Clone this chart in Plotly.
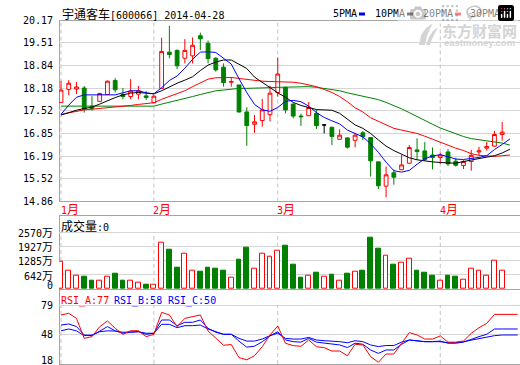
import plotly.graph_objects as go

W, H = 520, 365

# ---------------- data ----------------
title_text = '<span style="font-family:Noto Sans CJK SC;font-size:12px">宇通客车</span>[600066] 2014-04-28'
month_labels = ["1月", "2月", "3月", "4月"]
month_start = [1, 13, 29, 50]          # bar index where each month line is drawn

opens = [17.76, 18.14, 18.15, 18.18, 17.65, 17.79, 17.99, 18.40, 17.99, 17.93,
         18.00, 17.95, 17.75, 18.17, 19.23, 19.28, 19.05, 19.12, 19.71, 19.49,
         19.05, 18.79, 18.35, 18.27, 17.48, 17.12, 17.23, 17.40, 18.05, 18.20,
         17.71, 17.36, 17.37, 17.44, 17.10, 17.03, 16.68, 16.72, 16.65, 16.87,
         16.73, 16.02, 15.31, 15.70, 15.79, 15.98, 16.37, 16.34, 16.22, 16.15,
         16.31, 16.04, 15.91, 16.03, 16.31, 16.42, 16.48, 16.82]
highs = [18.39, 18.41, 18.36, 18.24, 17.94, 18.04, 18.40, 18.47, 18.18, 18.44,
         18.24, 18.09, 17.97, 19.65, 20.00, 19.31, 19.61, 19.66, 19.80, 19.57,
         19.08, 18.90, 18.49, 18.27, 17.62, 17.39, 17.86, 18.25, 19.07, 18.22,
         17.73, 17.43, 17.77, 17.54, 17.12, 17.05, 16.97, 16.74, 16.87, 16.92,
         16.73, 16.02, 15.88, 15.80, 16.22, 16.51, 16.71, 16.60, 16.44, 16.29,
         16.39, 16.14, 16.07, 16.37, 16.46, 16.60, 16.93, 17.19]
lows = [17.76, 17.97, 18.00, 17.46, 17.52, 17.77, 17.98, 18.05, 17.85, 17.85,
        17.85, 17.83, 17.74, 18.17, 19.05, 18.73, 18.90, 18.90, 19.29, 18.90,
        18.66, 18.22, 18.22, 17.46, 16.49, 16.87, 17.05, 17.20, 17.93, 17.44,
        17.29, 17.07, 17.36, 16.98, 16.85, 16.51, 16.68, 16.41, 16.44, 16.66,
        15.59, 15.22, 14.98, 15.35, 15.78, 15.97, 16.07, 16.05, 15.80, 15.96,
        15.90, 15.88, 15.81, 15.76, 16.22, 16.35, 16.46, 16.64]
closes = [18.12, 18.32, 18.21, 17.56, 17.58, 18.02, 18.38, 18.13, 17.93, 18.09,
          18.10, 17.90, 17.94, 19.25, 19.16, 18.83, 19.28, 19.43, 19.62, 19.04,
          18.71, 18.34, 18.37, 17.48, 17.08, 17.19, 17.54, 18.03, 18.59, 17.54,
          17.36, 17.34, 17.61, 17.08, 17.10, 16.76, 16.80, 16.45, 16.80, 16.76,
          16.05, 15.32, 15.64, 15.57, 15.93, 16.44, 16.32, 16.09, 16.15, 16.22,
          15.96, 15.92, 16.03, 16.21, 16.34, 16.47, 16.82, 16.89]

volume = [1217, 812, 616, 541, 376, 361, 571, 676, 376, 361,
          301, 180, 210, 2104, 1758, 947, 1608, 842, 767, 947,
          902, 812, 496, 1308, 1849, 932, 1608, 1473, 1743, 1939,
          1082, 496, 616, 721, 571, 631, 361, 676, 767, 812,
          2300, 1804, 1518, 1082, 1202, 1383, 812, 721, 586, 361,
          586, 541, 406, 932, 812, 616, 1262, 842]

ma5 = [17.41, 17.68, 17.91, 17.98, 17.98, 17.98, 17.98, 17.98, 18.04, 18.10,
       18.10, 18.04, 18.01, 18.19, 18.40, 18.53, 18.76, 19.02, 19.23, 19.24,
       19.22, 19.05, 18.88, 18.45, 18.05, 17.70, 17.54, 17.50, 17.61, 17.79,
       17.82, 17.78, 17.65, 17.46, 17.32, 17.22, 17.13, 16.95, 16.85, 16.75,
       16.55, 16.30, 16.01, 15.76, 15.72, 15.77, 15.95, 16.11, 16.19, 16.23,
       16.17, 16.10, 16.09, 16.11, 16.15, 16.20, 16.38, 16.53, 16.69]
ma10 = [17.39, 17.47, 17.53, 17.58, 17.62, 17.71, 17.81, 17.90, 17.98, 18.03,
        18.05, 18.04, 18.01, 18.10, 18.22, 18.32, 18.41, 18.51, 18.69, 18.85,
        18.94, 19.00, 19.00, 18.88, 18.75, 18.50, 18.34, 18.18, 18.04, 17.91,
        17.76, 17.67, 17.60, 17.55, 17.54, 17.53, 17.44, 17.28, 17.10, 17.00,
        16.85, 16.66, 16.48, 16.35, 16.24, 16.14, 16.08, 16.04, 16.02, 16.00,
        15.98, 15.98, 16.03, 16.07, 16.11, 16.15, 16.20, 16.28, 16.39]
ma20 = [17.41, 17.46, 17.51, 17.54, 17.56, 17.58, 17.59, 17.61, 17.63, 17.67,
        17.70, 17.73, 17.75, 17.85, 17.93, 18.01, 18.10, 18.22, 18.34, 18.44,
        18.48, 18.49, 18.49, 18.46, 18.43, 18.39, 18.38, 18.37, 18.37, 18.37,
        18.35, 18.32, 18.27, 18.22, 18.14, 18.05, 17.93, 17.78, 17.60, 17.48,
        17.31, 17.20, 17.10, 17.00, 16.95, 16.90, 16.85, 16.77, 16.68, 16.58,
        16.50, 16.42, 16.35, 16.26, 16.21, 16.19, 16.18, 16.20, 16.22]
ma30 = [17.65, 17.65, 17.65, 17.65, 17.65, 17.65, 17.65, 17.65, 17.65, 17.65,
        17.65, 17.65, 17.65, 17.71, 17.76, 17.81, 17.87, 17.93, 17.99, 18.05,
        18.10, 18.12, 18.15, 18.17, 18.17, 18.17, 18.18, 18.19, 18.20, 18.21,
        18.22, 18.22, 18.22, 18.20, 18.17, 18.14, 18.10, 18.04, 17.99, 17.95,
        17.90, 17.84, 17.76, 17.67, 17.57, 17.46, 17.34, 17.22, 17.12, 17.01,
        16.92, 16.83, 16.76, 16.70, 16.67, 16.65, 16.62, 16.57, 16.51]

rsi_a = [68.7, 70.4, 65.2, 44.5, 46.3, 56.6, 62.5, 54.9, 48.7, 52.4,
         52.4, 46.3, 48.7, 71.4, 68.7, 56.6, 65.2, 67.0, 68.7, 52.1,
         44.5, 37.4, 38.1, 24.6, 22.3, 26.6, 35.9, 48.0, 57.3, 39.4,
         37.0, 36.3, 42.8, 35.9, 34.9, 31.4, 31.4, 26.6, 38.4, 37.7,
         25.6, 19.8, 28.3, 28.3, 39.4, 50.5, 48.0, 43.8, 43.8, 47.0,
         40.6, 40.6, 41.8, 49.7, 55.5, 60.0, 69.3, 69.3, 69.3, 69.3]
rsi_b = [58.3, 59.4, 56.7, 48.0, 47.3, 52.3, 56.7, 52.3, 49.8, 50.8,
         51.4, 48.7, 49.8, 63.5, 63.5, 57.6, 61.1, 61.1, 63.5, 54.9,
         50.8, 48.7, 48.7, 41.6, 35.4, 36.4, 41.0, 47.0, 51.4, 42.8,
         41.1, 40.6, 44.5, 40.6, 39.5, 38.4, 37.7, 35.0, 39.5, 38.4,
         32.5, 29.0, 32.5, 32.5, 38.4, 42.8, 41.7, 41.1, 41.1, 41.7,
         39.5, 39.5, 40.6, 43.8, 46.3, 48.7, 54.2, 54.2, 54.2, 54.2]
rsi_c = [52.3, 54.2, 52.3, 47.3, 48.0, 51.4, 52.3, 52.1, 50.8, 51.4,
         51.4, 49.8, 49.8, 59.0, 59.0, 55.6, 57.6, 57.6, 58.3, 54.2,
         51.4, 48.7, 48.7, 44.5, 41.7, 41.7, 43.8, 47.3, 49.8, 44.5,
         43.8, 43.8, 45.5, 42.8, 42.1, 41.7, 41.1, 40.0, 42.1, 41.1,
         37.7, 36.0, 37.1, 37.1, 40.6, 42.8, 41.7, 41.1, 41.1, 41.1,
         40.0, 40.0, 41.1, 42.8, 44.5, 45.5, 47.3, 48.0, 48.0, 48.0]

price_ticks = [20.17, 19.51, 18.84, 18.18, 17.52, 16.85, 16.19, 15.52, 14.86]
vol_ticks = [2570, 1927, 1285, 642, 0]
vol_tick_text = ["2570万", "1927万", "1285万", "642万", "0"]
rsi_ticks = [79, 48, 18]

ma_names = ["5PMA", "10PMA", "20PMA", "30PMA"]
ma_colors = ["#0000ff", "#000000", "#ff0000", "#008000"]
rsi_header = [("RSI_A:77", "#ff0000"), ("RSI_B:58", "#0000ff"), ("RSI_C:50", "#0000ff")]

# ---------------- styling ----------------
RED, GREEN, BLUE, BLACK = "#ff0000", "#008000", "#0000ff", "#000000"
GRID = "#d6d6d6"
BORDER = "#a4a4a4"
DASH = "#c4c4c4"
WM = "#d4d4d4"
MONO = "DejaVu Sans Mono"
CJK = "Noto Sans CJK SC"


def cjk(s, size=12):
    out = ""
    for ch in s:
        if ord(ch) > 0x2e80:
            out += f'<span style="font-family:{CJK};font-size:{size}px">{ch}</span>'
        else:
            out += ch
    return out


def px(x):
    return x / W


def py(y):
    return 1 - y / H


LEFT = 59
XR = [0.742, 60.3]
n = len(closes)
bars = list(range(1, n + 1))

fig = go.Figure()

# candles (doji drawn in black)
up_idx = [i for i in range(n) if closes[i] != opens[i]]
doji_idx = [i for i in range(n) if closes[i] == opens[i]]
fig.add_trace(go.Candlestick(
    x=[bars[i] for i in up_idx], open=[opens[i] for i in up_idx],
    high=[highs[i] for i in up_idx], low=[lows[i] for i in up_idx],
    close=[closes[i] for i in up_idx],
    increasing=dict(line=dict(color=RED, width=1), fillcolor="white"),
    decreasing=dict(line=dict(color=GREEN, width=1), fillcolor=GREEN),
    whiskerwidth=0, xaxis="x", yaxis="y", hoverinfo="skip"))
if doji_idx:
    fig.add_trace(go.Candlestick(
        x=[bars[i] for i in doji_idx], open=[opens[i] for i in doji_idx],
        high=[highs[i] for i in doji_idx], low=[lows[i] for i in doji_idx],
        close=[closes[i] for i in doji_idx],
        increasing=dict(line=dict(color=BLACK, width=1), fillcolor=BLACK),
        decreasing=dict(line=dict(color=BLACK, width=1), fillcolor=BLACK),
        whiskerwidth=0, xaxis="x", yaxis="y", hoverinfo="skip"))

# moving averages
for vals, col in zip([ma30, ma20, ma10, ma5], [ma_colors[3], ma_colors[2], ma_colors[1], ma_colors[0]]):
    fig.add_trace(go.Scatter(x=list(range(1, len(vals) + 1)), y=vals, mode="lines",
                             line=dict(color=col, width=1), xaxis="x", yaxis="y",
                             hoverinfo="skip"))

# volume
vfill = ["white" if closes[i] >= opens[i] else GREEN for i in range(n)]
vline = [RED if closes[i] >= opens[i] else GREEN for i in range(n)]
fig.add_trace(go.Bar(x=bars, y=volume, width=0.62,
                     marker=dict(color=vfill, line=dict(color=vline, width=1)),
                     xaxis="x2", yaxis="y2", hoverinfo="skip"))

# RSI
for vals, col in zip([rsi_c, rsi_b, rsi_a], [BLUE, BLUE, RED]):
    fig.add_trace(go.Scatter(x=list(range(1, len(vals) + 1)), y=vals, mode="lines",
                             line=dict(color=col, width=1), xaxis="x3", yaxis="y3",
                             hoverinfo="skip"))

main_dom = [py(201.5), py(20)]
vol_dom = [py(289), py(215.7)]
rsi_dom = [py(364), py(289)]
vol_top = 2570 * (289 - 215.7) / (289 - 232)
rsi_top = 79 + (305 - 289) * (79 - 18) / (364 - 305)

xcommon = dict(range=XR, visible=False, showgrid=False, zeroline=False, fixedrange=True)
ycommon = dict(showticklabels=False, gridcolor=GRID, gridwidth=1, zeroline=False,
               showline=False, ticks="", fixedrange=True)

fig.update_layout(
    width=W, height=H, margin=dict(l=0, r=0, t=0, b=0),
    paper_bgcolor="white", plot_bgcolor="white", showlegend=False,
    xaxis=dict(domain=[px(LEFT), 1], anchor="y", rangeslider=dict(visible=False), **xcommon),
    xaxis2=dict(domain=[px(LEFT), 1], anchor="y2", **xcommon),
    xaxis3=dict(domain=[px(LEFT), 1], anchor="y3", **xcommon),
    yaxis=dict(domain=main_dom, range=[price_ticks[-1], price_ticks[0]], tickvals=price_ticks,
               anchor="x", **ycommon),
    yaxis2=dict(domain=vol_dom, range=[0, vol_top], tickvals=vol_ticks, anchor="x2", **ycommon),
    yaxis3=dict(domain=rsi_dom, range=[18, rsi_top], tickvals=rsi_ticks, anchor="x3", **ycommon),
    bargap=0,
)

shapes = []
# month dashed lines
for m in month_start:
    for xr_, yr_, y0, y1 in [("x", "y", price_ticks[-1], price_ticks[0]),
                             ("x2", "y2", 0, vol_ticks[0]),
                             ("x3", "y3", rsi_ticks[-1], rsi_ticks[0])]:
        shapes.append(dict(type="line", xref=xr_, yref=yr_, x0=m, x1=m, y0=y0, y1=y1,
                           line=dict(color=DASH, width=1, dash="4px,3px"), layer="between"))
# panel borders
def hline(y, x0=LEFT, x1=W):
    return dict(type="line", xref="paper", yref="paper", x0=px(x0), x1=px(x1), y0=py(y), y1=py(y),
                line=dict(color=BORDER, width=1), layer="between")


def vline_(x, y0, y1):
    return dict(type="line", xref="paper", yref="paper", x0=px(x), x1=px(x), y0=py(y0), y1=py(y1),
                line=dict(color=BORDER, width=1), layer="between")


shapes += [hline(20.5), hline(201.5), vline_(LEFT + 0.5, 20, 201.5),
           hline(215.5), hline(289.5), vline_(LEFT + 0.5, 215.5, 364.5), hline(364.5)]
# legend swatches
sw_x = [359, 407, 455, 503]
for xx, col in zip(sw_x, ma_colors):
    shapes.append(dict(type="rect", xref="paper", yref="paper", x0=px(xx), x1=px(xx + 6),
                       y0=py(15.5), y1=py(12.5), fillcolor=col, line=dict(width=0)))


# watermark swoosh logo (decoration)
def pth(pts):
    s = ""
    for k, (cmd, a, b) in enumerate(pts):
        s += f"{cmd}{px(a):.5f},{py(b):.5f} "
    return s + "Z"


shapes.append(dict(type="path", xref="paper", yref="paper", layer="below",
                   path=pth([("M", 419, 45), ("L", 421, 35), ("L", 426, 28), ("L", 433, 23),
                             ("L", 430, 29), ("L", 427, 36), ("L", 425, 45)]),
                   fillcolor=WM, line=dict(width=0)))
shapes.append(dict(type="path", xref="paper", yref="paper", layer="below",
                   path=pth([("M", 426, 45), ("L", 429, 37), ("L", 433, 31), ("L", 438, 27),
                             ("L", 435, 33), ("L", 432, 39), ("L", 430, 45)]),
                   fillcolor=WM, line=dict(width=0)))
fig.update_layout(shapes=shapes)

ann = []
def text(x, y, s, color=BLACK, size=10, xanchor="left", yref="paper", family=MONO, **kw):
    ann.append(dict(x=x, y=y, xref="paper", yref=yref, text=s, showarrow=False,
                    xanchor=xanchor, yanchor="middle", font=dict(family=family, size=size, color=color),
                    borderpad=0, **kw))

# title
text(px(61), py(14), title_text)
# MA legend
for xx, name in zip([331.5, 374, 421.5, 469], ma_names):
    text(px(xx), py(14), name)
# watermark
text(px(479), py(30.5), "<b>东方财富网</b>", color=WM, size=15, xanchor="center", family=CJK)
text(px(479), py(43), "<b>eastmoney.com</b>", color=WM, size=9.5, xanchor="center",
     family="Liberation Sans")
# price labels
for v in price_ticks:
    text(px(54), v, f"{v:.2f}", xanchor="right", yref="y")
# month labels
for m, lab in zip(month_start, month_labels):
    xpix = LEFT + 2 + (m - 1) * (W - LEFT) / (XR[1] - XR[0]) - 1.5
    text(px(xpix), py(208.5), cjk(lab), color=RED)
# volume header and labels
text(px(60), py(225), cjk("成交量") + ":0")
for v, lab in zip(vol_ticks, vol_tick_text):
    text(px(54), v, cjk(lab, 11), xanchor="right", yref="y2", yshift=3 if v == 0 else 0)
# RSI header and labels
for xx, (s, col) in zip([60, 113.3, 166.7], rsi_header):
    text(px(xx), py(300.5), s, color=col)
for v in rsi_ticks:
    text(px(54), v, str(v), xanchor="right", yref="y3", yshift=4 if v == 18 else 0)

fig.update_layout(annotations=ann)
fig.write_html("out.html", post_script="document.body.style.margin='0';document.body.style.overflow='hidden';")
